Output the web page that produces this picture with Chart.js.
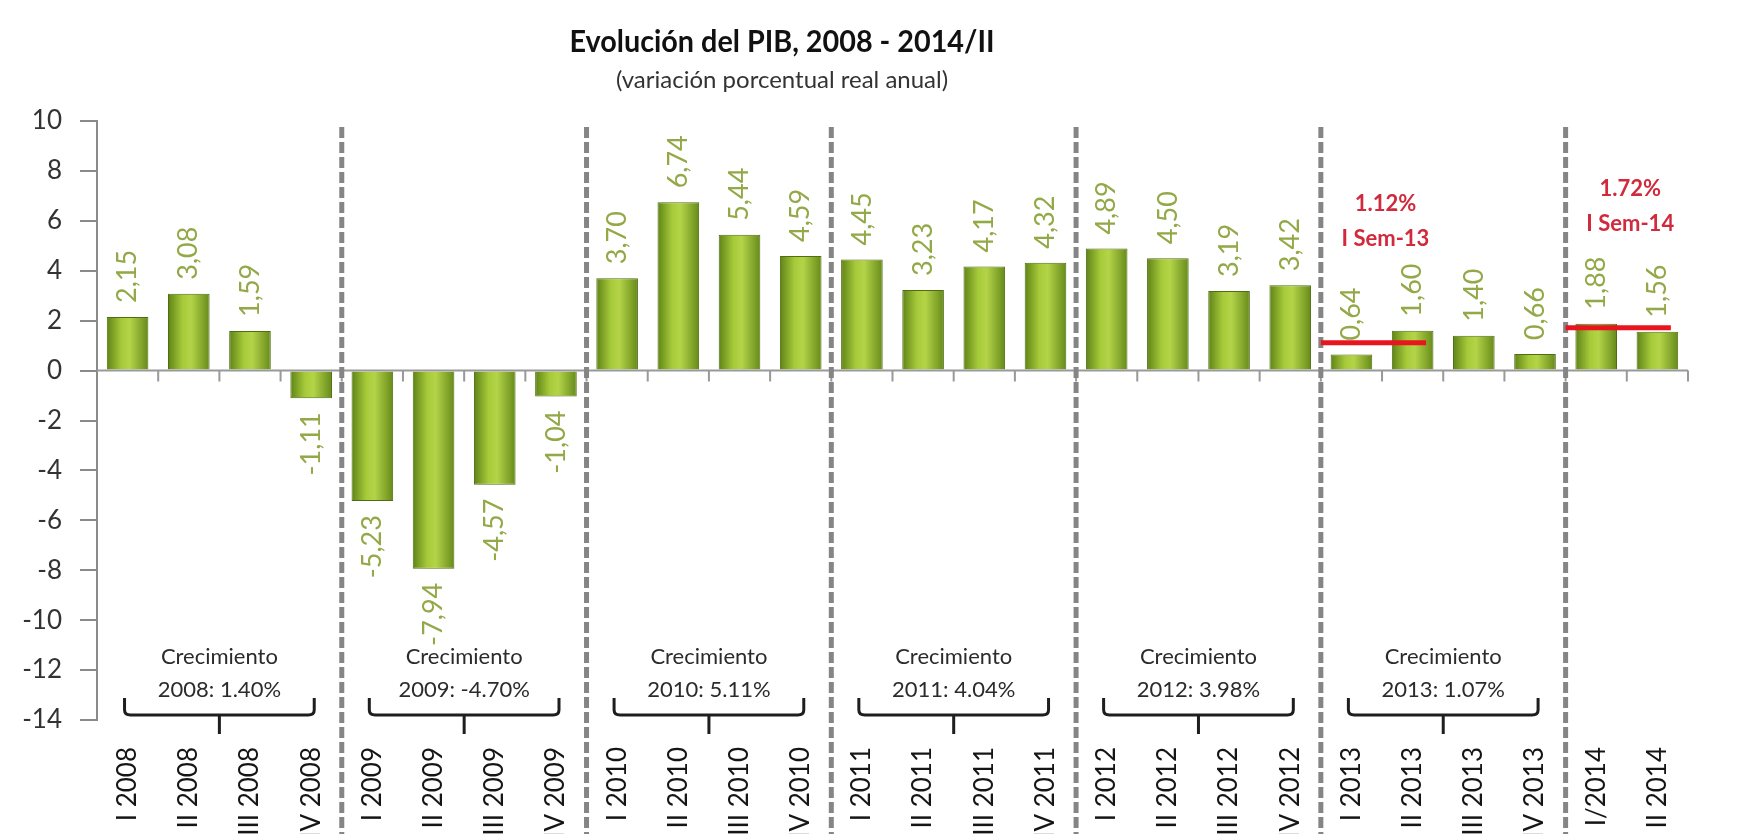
<!DOCTYPE html>
<html>
<head>
<meta charset="utf-8">
<script src="https://cdn.jsdelivr.net/npm/chart.js@4.4.1/dist/chart.umd.min.js"></script>
<style>
  html, body { margin: 0; padding: 0; background: #fff; overflow: hidden; }
  #grafico { display: block; }
</style>
</head>
<body>
<canvas id="grafico" width="1739" height="834"></canvas>
<script>
// datos del grafico
const trimestres = [
  "I 2008", "II 2008", "III 2008", "IV 2008",
  "I 2009", "II 2009", "III 2009", "IV 2009",
  "I 2010", "II 2010", "III 2010", "IV 2010",
  "I 2011", "II 2011", "III 2011", "IV 2011",
  "I 2012", "II 2012", "III 2012", "IV 2012",
  "I 2013", "II 2013", "III 2013", "IV 2013",
  "I/2014", "II 2014"
];
const variacionPIB = [
  2.15, 3.08, 1.59, -1.11,
  -5.23, -7.94, -4.57, -1.04,
  3.70, 6.74, 5.44, 4.59,
  4.45, 3.23, 4.17, 4.32,
  4.89, 4.50, 3.19, 3.42,
  0.64, 1.60, 1.40, 0.66,
  1.88, 1.56
];
const anios = ["2008", "2009", "2010", "2011", "2012", "2013"];
const crecimientoAnual = [1.40, -4.70, 5.11, 4.04, 3.98, 1.07];
const semestres = ["I Sem-13", "I Sem-14"];
const crecimientoSemestral = [1.12, 1.72];
const inicioSemestre = [20, 24]; // indice del primer trimestre
const rangoY = [-14, 10];
const pasoY = 2;

const fuente = "Lato, 'Open Sans', sans-serif";

// gradiente de cada barra
const barrasGradiente = {
  id: "barrasGradiente",
  beforeDatasetsDraw(chart) {
    const ctx = chart.ctx;
    chart.getDatasetMeta(0).data.forEach((bar) => {
      const g = ctx.createLinearGradient(bar.x - bar.width / 2, 0, bar.x + bar.width / 2, 0);
      g.addColorStop(0, "#5f8316");
      g.addColorStop(0.35, "#a6ca3a");
      g.addColorStop(0.55, "#b4d448");
      g.addColorStop(1, "#668a1a");
      bar.options = Object.assign({}, bar.options, { backgroundColor: g });
    });
  },
};

// lineas, etiquetas y llaves
const extras = {
  id: "extras",
  beforeDraw(chart) {
    const ctx = chart.ctx;
    ctx.save();
    ctx.fillStyle = "#111";
    ctx.textAlign = "center";
    ctx.textBaseline = "middle";
    ctx.font = "bold 30px " + fuente;
    ctx.fillText("Evolución del PIB, 2008 - 2014/II", 782, 42, 425);
    ctx.fillStyle = "#333";
    ctx.font = "24px " + fuente;
    ctx.fillText("(variación porcentual real anual)", 782, 80, 350);
    ctx.restore();
  },
  afterDatasetsDraw(chart) {
    const ctx = chart.ctx;
    const x = chart.scales.x;
    const y = chart.scales.y;
    const ancho = x.getPixelForValue(1) - x.getPixelForValue(0);
    const y0 = y.getPixelForValue(0);

    ctx.save();
    // eje en cero y marcas
    ctx.strokeStyle = "#999";
    ctx.lineWidth = 2;
    ctx.beginPath();
    ctx.moveTo(chart.chartArea.left, y0);
    ctx.lineTo(chart.chartArea.right, y0);
    for (let i = 0; i < trimestres.length; i++) {
      const px = x.getPixelForValue(i) + ancho / 2;
      ctx.moveTo(px, y0);
      ctx.lineTo(px, y0 + 11);
    }
    ctx.stroke();

    // etiquetas de valores
    ctx.fillStyle = "#93a847";
    ctx.font = "27px " + fuente;
    ctx.textBaseline = "middle";
    chart.getDatasetMeta(0).data.forEach((bar, i) => {
      const v = variacionPIB[i];
      const texto = v.toFixed(2).replace(".", ",");
      ctx.save();
      ctx.translate(bar.x, v >= 0 ? bar.y - 14 : bar.y + 14);
      ctx.rotate(-Math.PI / 2);
      ctx.textAlign = v >= 0 ? "left" : "right";
      ctx.fillText(texto, 0, 0);
      ctx.restore();
    });

    // separadores de anios
    ctx.strokeStyle = "#858585";
    ctx.lineWidth = 5;
    ctx.setLineDash([11, 4]);
    for (let k = 1; k <= anios.length; k++) {
      const px = x.getPixelForValue(k * 4) - ancho / 2;
      ctx.beginPath();
      ctx.moveTo(px, 127);
      ctx.lineTo(px, chart.height);
      ctx.stroke();
    }
    ctx.setLineDash([]);

    // promedio semestral
    semestres.forEach((s, k) => {
      const i0 = inicioSemestre[k];
      const xa = x.getPixelForValue(i0) - ancho / 2;
      const xb = x.getPixelForValue(i0 + 1) + ancho * 0.22;
      const py = y.getPixelForValue(crecimientoSemestral[k]);
      ctx.strokeStyle = "#e8141e";
      ctx.lineWidth = 5;
      ctx.beginPath();
      ctx.moveTo(xa, py);
      ctx.lineTo(xb, py);
      ctx.stroke();
      ctx.fillStyle = "#d02a3c";
      ctx.font = "bold 22px " + fuente;
      ctx.textAlign = "center";
      const cx = (xa + xb) / 2 + 12;
      ctx.fillText(crecimientoSemestral[k].toFixed(2) + "%", cx, py - 139);
      ctx.fillText(s, cx, py - 104);
    });

    // llaves de crecimiento anual
    const base = y.bottom;
    anios.forEach((a, k) => {
      const cx = (x.getPixelForValue(k * 4) + x.getPixelForValue(k * 4 + 3)) / 2;
      const mitad = ancho * 1.55;
      ctx.strokeStyle = "#1e1e1e";
      ctx.lineWidth = 3;
      ctx.beginPath();
      ctx.moveTo(cx - mitad, base - 22);
      ctx.lineTo(cx - mitad, base - 10);
      ctx.quadraticCurveTo(cx - mitad, base - 5, cx - mitad + 6, base - 5);
      ctx.lineTo(cx + mitad - 6, base - 5);
      ctx.quadraticCurveTo(cx + mitad, base - 5, cx + mitad, base - 10);
      ctx.lineTo(cx + mitad, base - 22);
      ctx.moveTo(cx, base - 5);
      ctx.lineTo(cx, base + 14);
      ctx.stroke();
      ctx.fillStyle = "#2b2b2b";
      ctx.font = "22px " + fuente;
      ctx.textAlign = "center";
      ctx.fillText("Crecimiento", cx, base - 63);
      ctx.fillText(a + ": " + crecimientoAnual[k].toFixed(2) + "%", cx, base - 30);
    });
    ctx.restore();
  },
};

const grafico = new Chart(document.getElementById("grafico").getContext("2d"), {
  type: "bar",
  data: {
    labels: trimestres,
    datasets: [
      {
        data: variacionPIB,
        backgroundColor: "#9cc232",
        borderColor: "#4f6e12",
        borderWidth: 1,
        categoryPercentage: 1,
        barPercentage: 0.68,
      },
    ],
  },
  options: {
    responsive: false,
    animation: false,
    devicePixelRatio: 1,
    layout: { padding: { top: 121, right: 51, bottom: 0, left: 0 } },
    plugins: {
      legend: { display: false },
      tooltip: { enabled: false },
    },
    scales: {
      x: {
        grid: { display: false },
        border: { display: false },
        ticks: {
          autoSkip: false,
          maxRotation: 90,
          minRotation: 90,
          padding: 19,
          color: "#151515",
          font: { family: fuente, size: 26 },
        },
        afterFit(scale) {
          scale.height = 114;
          scale.paddingLeft = 0;
          scale.paddingRight = 0;
        },
      },
      y: {
        min: rangoY[0],
        max: rangoY[1],
        ticks: {
          stepSize: pasoY,
          padding: 18,
          color: "#333",
          font: { family: fuente, size: 26 },
        },
        grid: {
          drawOnChartArea: false,
          tickLength: 17,
          color: "#8a8a8a",
          lineWidth: 2,
        },
        border: { color: "#8a8a8a", width: 2 },
        afterFit(scale) {
          scale.width = 97;
          scale.paddingTop = 0;
          scale.paddingBottom = 0;
        },
      },
    },
  },
  plugins: [barrasGradiente, extras],
});
</script>
</body>
</html>
